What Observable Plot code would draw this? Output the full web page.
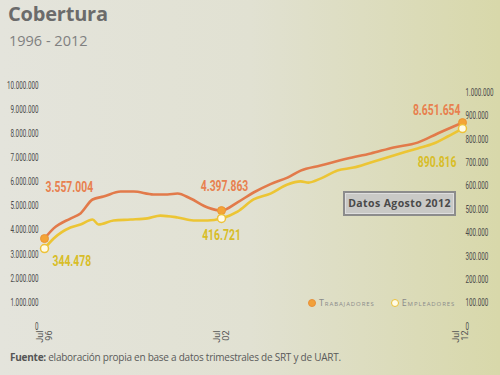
<!DOCTYPE html>
<html><head><meta charset="utf-8">
<script src="https://cdn.jsdelivr.net/npm/d3@7"></script>
<script src="https://cdn.jsdelivr.net/npm/@observablehq/plot@0.6"></script>
<style>
html,body{margin:0;padding:0;}
#page{position:relative;width:500px;height:375px;overflow:hidden;background:linear-gradient(to right,#e4e4dc 0%,#e1e1d2 50%,#d8d8aa 100%);font-family:"Open Sans",sans-serif;}
#title{position:absolute;left:8px;top:0px;font-size:20px;font-weight:700;color:#6b6b6b;letter-spacing:-0.2px;}
#subtitle{position:absolute;left:9px;top:31px;font-size:14.5px;color:#808080;}
#chart{position:absolute;left:0;top:55px;}
#footer{position:absolute;left:10px;top:350px;font-size:10px;color:#5a5a5a;letter-spacing:-0.25px;}
#footer b{color:#555;}
#legend{position:absolute;left:308px;top:296px;font-size:9px;color:#8a8a8a;font-variant:small-caps;letter-spacing:0.9px;white-space:nowrap;}
#legend span.sw{display:inline-block;width:6px;height:6px;border-radius:50%;vertical-align:middle;margin-right:3px;position:relative;top:-1px;}
#box{position:absolute;left:343px;top:191px;width:109px;height:21px;background:#c9c9c6;border:2px solid #8c8c8c;box-shadow:inset 0 0 0 1px #dedede;font-size:10.5px;font-weight:700;color:#4a4a4a;text-align:center;line-height:21px;letter-spacing:0.4px;}
</style></head>
<body><div id="page">
<div id="title">Cobertura</div>
<div id="subtitle">1996 - 2012</div>
<div id="chart"></div>
<div id="legend"><span class="sw" style="background:#f2a13a;border:1px solid #e8903a;"></span>Trabajadores<span style="display:inline-block;width:16px"></span><span class="sw" style="background:#fffbe6;border:1.5px solid #ebc13a;"></span>Empleadores</div>
<div id="box">Datos Agosto 2012</div>
<div id="footer"><b>Fuente:</b> elaboración propia en base a datos trimestrales de SRT y de UART.</div>
</div>
<script>
// Trabajadores (cantidad)
const anosTrab = [1996.5,1996.81,1997.38,1997.72,1998.13,1998.5,1999.08,1999.52,2000.19,2000.67,2001.01,2001.45,2002.03,2002.5,2003.17,2003.84,2004.55,2005.26,2005.81,2006.64,2007.77,2008.74,2009.7,2010.7,2011.54,2012.58];
const trabajadores = [3650000,4070000,4480000,4690000,5270000,5390000,5600000,5600000,5480000,5480000,5520000,5310000,4940000,4810000,5150000,5560000,5910000,6180000,6470000,6680000,6970000,7180000,7430000,7630000,8010000,8460000];
// Empleadores (cantidad)
const anosEmpl = [1996.5,1996.81,1997.38,1997.72,1998.13,1998.33,1998.84,1999.42,1999.99,2000.43,2001.01,2001.55,2002.03,2002.5,2003.17,2003.84,2004.55,2005.26,2005.81,2006.14,2006.64,2007.35,2008.02,2008.74,2009.7,2010.7,2011.37,2011.96,2012.58];
const empleadores = [333000,376000,423000,436000,457000,436000,453000,457000,462000,474000,466000,453000,453000,462000,491000,543000,568000,607000,620000,615000,632000,667000,679000,701000,731000,761000,782000,812000,846000];
// Etiquetas de puntos destacados
const destacadosTrab = ["3.557.004","4.397.863","8.651.654"];
const destacadosEmpl = ["344.478","416.721","890.816"];
// Ejes
const ticksIzq = [0,1000000,2000000,3000000,4000000,5000000,6000000,7000000,8000000,9000000,10000000];
const ticksDer = [0,100000,200000,300000,400000,500000,600000,700000,800000,900000,1000000];
const ticksX = [1996.5,2002.5,2012.5];
const etiquetasX = ["Jul\n96","Jul\n02","Jul\n12"];

const K = 9.71; // relación eje derecho / eje izquierdo
const fmt = d3.formatLocale({thousands:".",decimal:",",grouping:[3],currency:["",""]}).format(",.0f");

const trab = anosTrab.map((a,i)=>({x:a,y:trabajadores[i]}));
const empl = anosEmpl.map((a,i)=>({x:a,y:empleadores[i]*K}));
const tPts = [trab[0], trab[13], trab[trab.length-1]].map((d,i)=>({...d,label:destacadosTrab[i]}));
const ePts = [empl[0], empl[13], empl[empl.length-1]].map((d,i)=>({...d,label:destacadosEmpl[i]}));

const orange="#e27a4a", yellow="#ecc534", orangeTxt="#e8804e", yellowTxt="#d8bd27";
const lbl = {x:"x",y:"y",text:"label",fontWeight:"bold",fontSize:14,fontFamily:'Roboto, sans-serif'};

const chart = Plot.plot({
  width:500, height:295,
  marginTop:30, marginBottom:24, marginLeft:42, marginRight:38,
  style:{background:"transparent", fontFamily:'Roboto, sans-serif', fontSize:"10.5px"},
  x:{type:"linear", domain:[1996.5,2002.5,2012.58], range:[44,221,462]},
  y:{domain:[0,10000000]},
  marks:[
    Plot.axisY(ticksIzq,{anchor:"left", tickSize:0, tickPadding:4, tickFormat:fmt, color:"#4a4a4a", label:null}),
    Plot.axisY(ticksDer.map(v=>v*K),{anchor:"right", tickSize:0, tickPadding:3, tickFormat:d=>fmt(Math.round(d/K/1000)*1000), color:"#4a4a4a", label:null}),
    Plot.axisX(ticksX,{anchor:"bottom", tickSize:0, tickPadding:4, tickRotate:-90, tickFormat:(d,i)=>etiquetasX[i], color:"#555", label:null, fontSize:9}),
    Plot.line(empl,{x:"x",y:"y",stroke:yellow,strokeWidth:2.6,curve:"monotone-x"}),
    Plot.line(trab,{x:"x",y:"y",stroke:orange,strokeWidth:2.6,curve:"monotone-x"}),
    Plot.dot(tPts,{x:"x",y:"y",r:4,fill:"#f4a437",stroke:"#eb9535",strokeWidth:1}),
    Plot.dot(ePts,{x:"x",y:"y",r:4,fill:"#fffbe6",stroke:"#edc23a",strokeWidth:1.5}),
    Plot.text([tPts[0]],{...lbl,textAnchor:"start",dx:1,dy:-51,fill:orangeTxt}),
    Plot.text([tPts[1]],{...lbl,textAnchor:"middle",dx:3,dy:-24,fill:orangeTxt}),
    Plot.text([tPts[2]],{...lbl,textAnchor:"end",dx:-2,dy:-12,fill:orangeTxt}),
    Plot.text([ePts[0]],{...lbl,textAnchor:"start",dx:8,dy:13,fill:yellowTxt}),
    Plot.text([ePts[1]],{...lbl,textAnchor:"middle",dx:0,dy:17,fill:yellowTxt}),
    Plot.text([ePts[2]],{...lbl,textAnchor:"end",dx:-6,dy:34,fill:yellowTxt})
  ]
});
document.getElementById("chart").appendChild(chart);
// Condensar textos (estilo tipográfico condensado del original)
function condense(sel, f){
  chart.querySelectorAll(sel).forEach(t=>{
    const L = t.getComputedTextLength();
    t.setAttribute("textLength", (L*f).toFixed(1));
    t.setAttribute("lengthAdjust","spacingAndGlyphs");
  });
}
condense('g[aria-label="y-axis tick label"] text', 0.6);
condense('g[aria-label="text"] text', 0.74);
</script>
</body></html>
